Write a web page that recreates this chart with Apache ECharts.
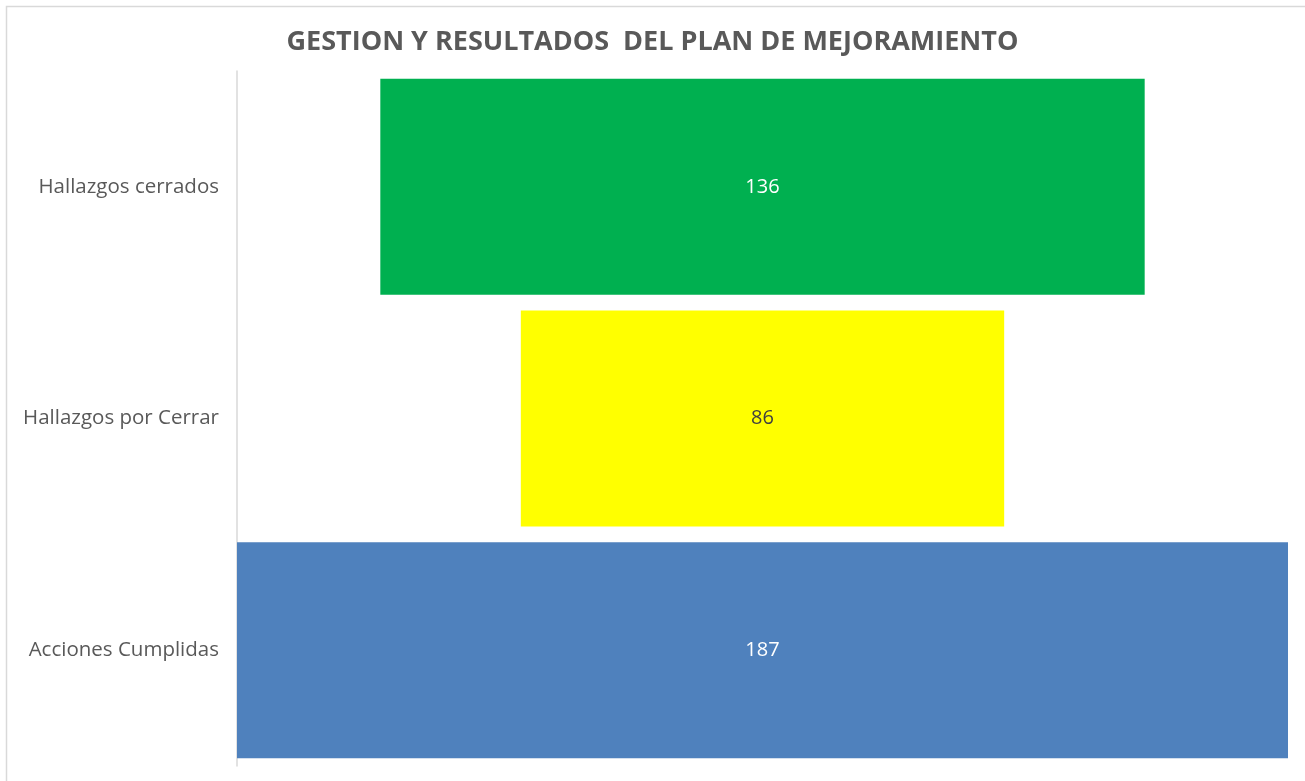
<!DOCTYPE html>
<html>
<head>
<meta charset="utf-8">
<script src="https://cdn.jsdelivr.net/npm/echarts@6/dist/echarts.min.js"></script>
<style>
  html, body { margin: 0; padding: 0; background: #fff; }
  #chart { width: 1305px; height: 781px; }
</style>
</head>
<body>
<div id="chart"></div>
<script>
// categorias (de arriba hacia abajo) y valores
var categories = ['Hallazgos cerrados', 'Hallazgos por Cerrar', 'Acciones Cumplidas'];
var values = [136, 86, 187];
var barColors = ['#00B050', '#FFFF00', '#4F81BD'];
var labelColors = ['#ffffff', '#404040', '#ffffff'];

var maxVal = Math.max.apply(null, values);
// espacio transparente para centrar cada barra (tipo embudo)
var offsets = values.map(function (v) { return (maxVal - v) / 2; });

var chart = echarts.init(document.getElementById('chart'));
chart.setOption({
  animation: false,
  backgroundColor: '#ffffff',
  title: {
    text: 'GESTION Y RESULTADOS  DEL PLAN DE MEJORAMIENTO',
    left: 'center',
    top: 24,
    textStyle: {
      color: '#595959',
      fontFamily: 'Open Sans',
      fontWeight: 'bold',
      fontSize: 27
    }
  },
  graphic: [{
    type: 'rect',
    shape: { x: 6.5, y: 6.5, width: 1320, height: 820 },
    style: { fill: 'none', stroke: '#d9d9d9', lineWidth: 1.5 },
    silent: true
  }],
  grid: {
    left: 237,
    right: 17,
    top: 71,
    bottom: 15
  },
  xAxis: {
    type: 'value',
    min: 0,
    max: maxVal,
    show: false
  },
  yAxis: {
    type: 'category',
    inverse: true,
    data: categories,
    axisTick: { show: false },
    axisLine: { show: true, lineStyle: { color: '#d9d9d9', width: 1.5 } },
    axisLabel: {
      color: '#595959',
      fontFamily: 'Open Sans',
      fontSize: 20.5,
      margin: 18
    }
  },
  series: [
    {
      name: 'offset',
      type: 'bar',
      stack: 'embudo',
      barWidth: 216,
      silent: true,
      itemStyle: { color: 'transparent' },
      data: offsets
    },
    {
      name: 'valor',
      type: 'bar',
      stack: 'embudo',
      barWidth: 216,
      data: values.map(function (v, i) {
        return {
          value: v,
          itemStyle: { color: barColors[i] },
          label: { color: labelColors[i] }
        };
      }),
      label: {
        show: true,
        position: 'inside',
        fontFamily: 'Open Sans',
        fontSize: 20
      }
    }
  ]
});
</script>
</body>
</html>
